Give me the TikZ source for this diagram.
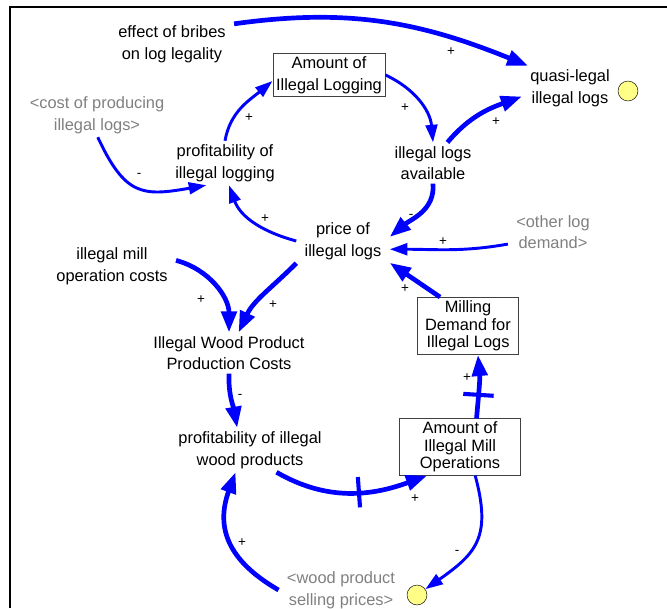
\documentclass[tikz,border=0pt]{standalone}
\usepackage{fontspec}
\setmainfont{Liberation Sans}
\usetikzlibrary{arrows.meta}
\definecolor{sinkfill}{HTML}{FFFF88}

\begin{document}
\begin{tikzpicture}[x=0.03cm,y=0.03cm]
        \tikzstyle{var}=[align=center,inner xsep=7pt,inner ysep=3pt,font=\fontsize{14}{18.5}\selectfont]
        \tikzstyle{ghost}=[var,text=gray]
        \tikzstyle{stock}=[var,draw=black!75,thin,inner sep=1pt]
        \tikzstyle{stockthree}=[stock,font=\fontsize{14}{15}\selectfont]
        \tikzstyle{sink}=[circle,draw=black,thin,fill=sinkfill,inner sep=0pt,minimum size=17pt]
        \tikzstyle{link}=[draw=blue,line width=2.5pt,-{Triangle[length=15pt,width=10pt]}]
        \tikzstyle{biglink}=[draw=blue,line width=4pt,-{Triangle[length=18pt,width=13pt]}]
        \tikzstyle{sign}=[inner sep=0pt,font=\fontsize{11.5}{13}\selectfont]
        \tikzstyle{delaybar}=[sloped,fill=blue,inner sep=0pt,minimum width=3.5pt,minimum height=26pt]

        \useasboundingbox (0,0) rectangle (667,-608);
        \draw[line width=2pt] (10,-608) -- (10,-7) -- (667,-7);

        \node[var] (eb) at (172,-44) {effect of bribes\\on log legality};
        \node[stock,minimum width=96pt,minimum height=36.5pt] (ail) at (329,-75) {Amount of\\Illegal Logging};
        \node[var] (ql) at (570,-88) {quasi-legal\\illegal logs};
        \node[sink] (c1) at (628,-91) {};
        \node[ghost] (cpl) at (97,-115) {\textless cost of producing\\illegal logs\textgreater};
        \node[var] (pil) at (225,-163) {profitability of\\illegal logging};
        \node[var] (ila) at (433,-163) {illegal logs\\available};
        \node[var] (pr) at (343,-241) {price of\\illegal logs};
        \node[ghost] (old) at (553,-232) {\textless other log\\demand\textgreater};
        \node[var] (imc) at (112,-266) {illegal mill\\operation costs};
        \node[var] (iwp) at (229,-353) {Illegal Wood Product\\Production Costs};
        \node[stockthree,minimum width=86.5pt,minimum height=49pt] (md) at (468,-326) {Milling\\Demand for\\Illegal Logs};
        \node[var] (piw) at (250,-450) {profitability of illegal\\wood products};
        \node[stockthree,minimum width=103.5pt,minimum height=48.5pt] (aim) at (460,-447) {Amount of\\Illegal Mill\\Operations};
        \node[ghost] (wsp) at (341,-590) {\textless wood product\\selling prices\textgreater};
        \node[sink] (c2) at (417,-595) {};

        \draw[biglink] (eb.18) to[out=8,in=158] (ql.152);
        \draw[link] (ail.east) to[out=-25,in=95] (ila.north);
        \draw[biglink] (ila.55) to[out=50,in=200] (ql.190);
        \draw[link] (cpl.-88) to[out=-65,in=190,looseness=1.4] (pil.230);
        \draw[link] (pil.north) to[out=80,in=220] (ail.186);
        \draw[link] (pr.west) to[out=165,in=-70] (pil.-80);
        \draw[biglink] (ila.south) to[out=-85,in=40] (pr.5);
        \draw[link] (old.195) to[out=190,in=0] (pr.-10);
        \draw[biglink] (md.134) -- (pr.-25);
        \draw[biglink] (pr.south west) to[out=225,in=65] (iwp.65);
        \draw[biglink] (imc.5) to[out=-15,in=90] (iwp.north);
        \draw[biglink] (iwp.south) to[out=-92,in=100] (piw.120);
        \draw[biglink] (piw.-40) to[out=-30,in=200] node[delaybar,pos=.56]{} (aim.221);
        \draw[biglink] (aim.60) to[out=85,in=-85] node[delaybar,pos=.36]{} (md.-71);
        \draw[link] (aim.-62) to[out=-75,in=35,looseness=1.3] (c2);
        \draw[biglink] (wsp.west) to[out=150,in=-110,looseness=1.2] (piw.237);

        \node[sign] (s1) at (451,-52) {+};
        \node[sign] (s2) at (405,-108) {+};
        \node[sign] (s3) at (496,-122) {+};
        \node[sign] (s4) at (139,-175) {-};
        \node[sign] (s5) at (249,-118) {+};
        \node[sign] (s6) at (265,-219) {+};
        \node[sign] (s7) at (411,-216) {-};
        \node[sign] (s8) at (443,-242) {+};
        \node[sign] (s9) at (405,-289) {+};
        \node[sign] (s10) at (273,-305) {+};
        \node[sign] (s11) at (201,-300) {+};
        \node[sign] (s12) at (240,-396) {-};
        \node[sign] (s13) at (415,-499) {+};
        \node[sign] (s14) at (467,-378) {+};
        \node[sign] (s15) at (457,-552) {-};
        \node[sign] (s16) at (242,-543) {+};
\end{tikzpicture}
\end{document}
